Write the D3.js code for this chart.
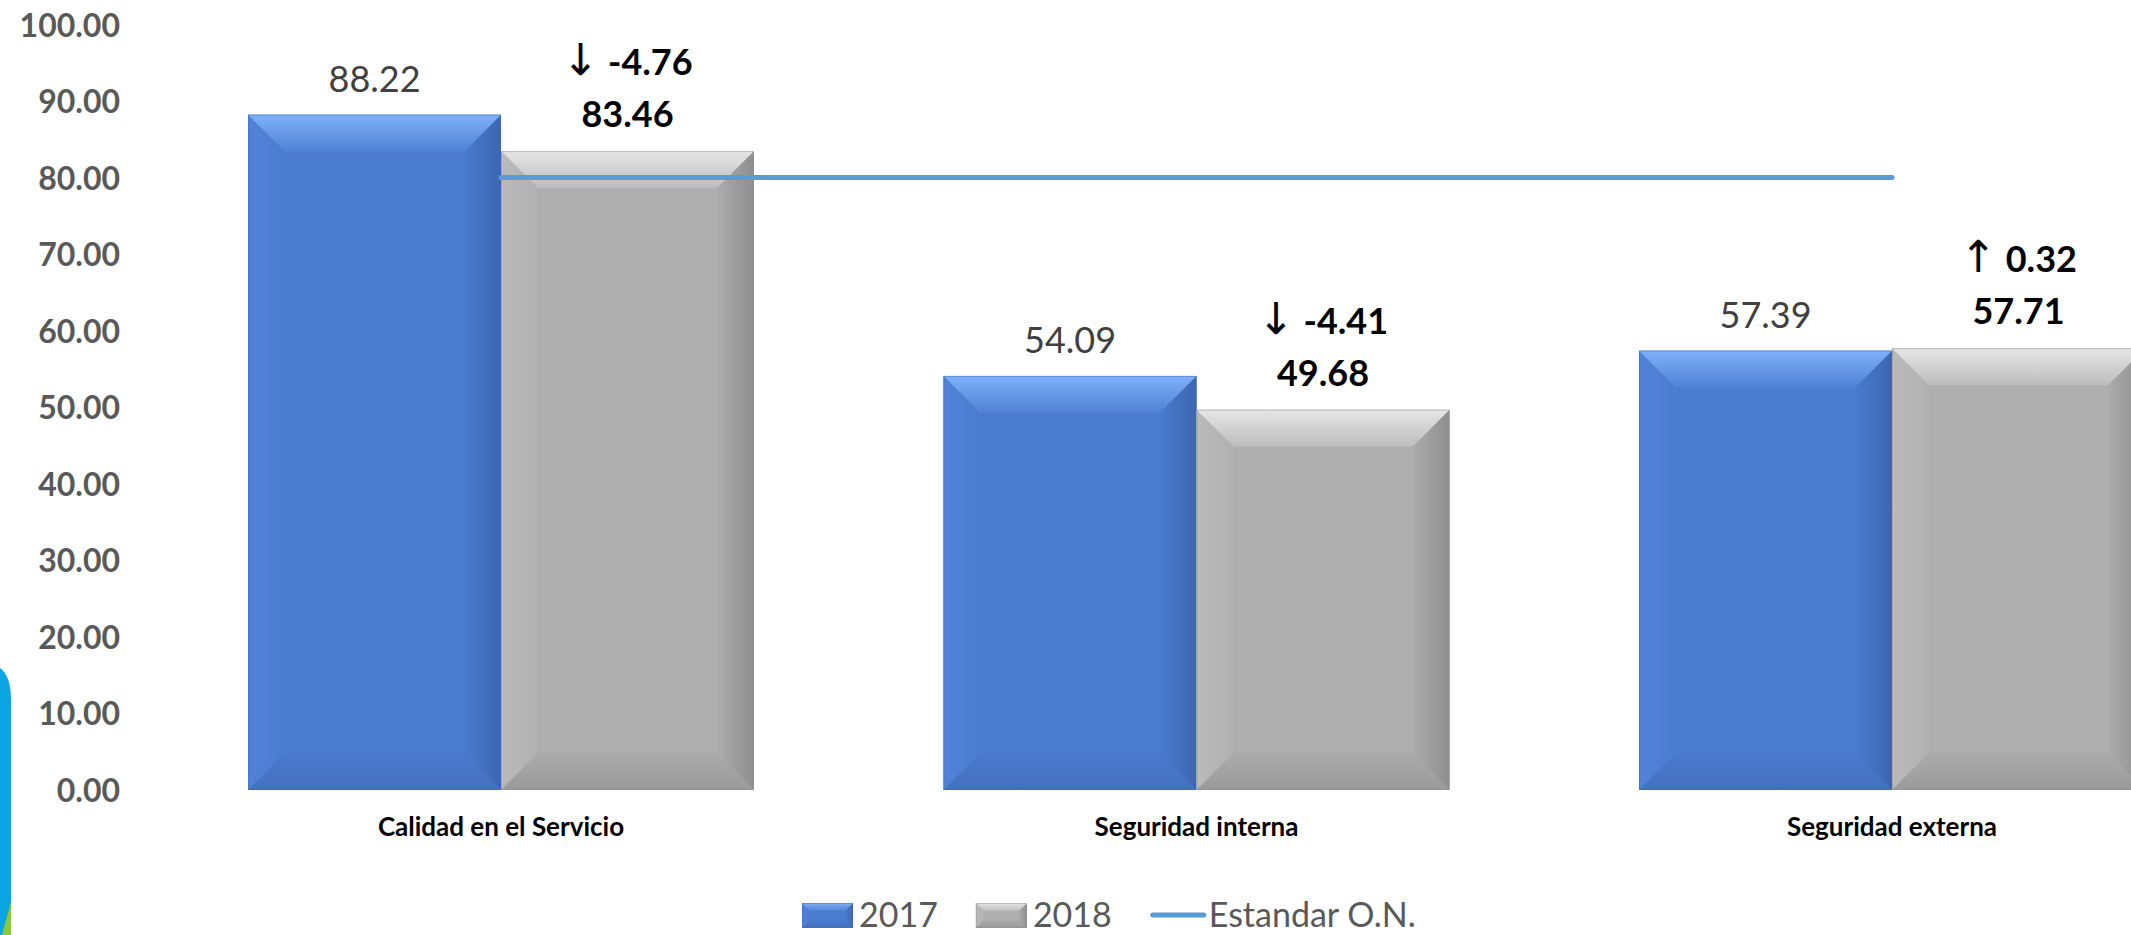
<!DOCTYPE html>
<html>
<head>
<meta charset="utf-8">
<script src="https://cdn.jsdelivr.net/npm/d3@7/dist/d3.min.js"></script>
<style>
  html, body { margin: 0; padding: 0; background: #ffffff; overflow: hidden; }
  svg { display: block; }
</style>
</head>
<body>
<svg id="chart" width="2131" height="935"></svg>
<script>
// ---------------- DATA ----------------
const categories = ["Calidad en el Servicio", "Seguridad interna", "Seguridad externa"];
const seriesNames = ["2017", "2018"];
const values2017 = [88.22, 54.09, 57.39];
const values2018 = [83.46, 49.68, 57.71];
const standardName = "Estandar O.N.";
const standardValues = [80, 80, 80];
const yTickValues = [0, 10, 20, 30, 40, 50, 60, 70, 80, 90, 100];

// ---------------- SETUP ----------------
const svg = d3.select("#chart");
const FONT = "Lato, 'Open Sans', 'DejaVu Sans', sans-serif";

const y = d3.scaleLinear().domain([0, 100]).range([790, 24.5]);
const x0 = d3.scaleBand().domain(categories).range([153.25, 2239.75])
  .paddingInner(0.2725).paddingOuter(0.13625);
const x1 = d3.scaleBand().domain(seriesNames).range([0, x0.bandwidth()]);

const rows = categories.map((c, i) => ({
  cat: c,
  bars: [
    { series: "2017", value: values2017[i] },
    { series: "2018", value: values2018[i], prev: values2017[i] }
  ]
}));

// palette for beveled bars
const pal = {
  "2017": { base: "#4A7BCF", topA: "#80B0F9", topB: "#4F82D6", leftA: "#5083D8", leftB: "#4B7CD0",
            rightA: "#4A7BCF", rightB: "#3C66B2", botA: "#4A79CC", botB: "#4470C0", stroke: "#3F6AB5" },
  "2018": { base: "#AFAFAF", topA: "#E6E6E6", topB: "#BDBDBD", leftA: "#BABABA", leftB: "#B1B1B1",
            rightA: "#ACACAC", rightB: "#8E8E8E", botA: "#ABABAB", botB: "#9A9A9A", stroke: "#8F8F8F" }
};

const defs = svg.append("defs");
function grad(id, a, b, vertical) {
  const g = defs.append("linearGradient").attr("id", id)
    .attr("x1", 0).attr("y1", 0).attr("x2", vertical ? 0 : 1).attr("y2", vertical ? 1 : 0);
  g.append("stop").attr("offset", "0%").attr("stop-color", a);
  g.append("stop").attr("offset", "100%").attr("stop-color", b);
}
Object.keys(pal).forEach(k => {
  const p = pal[k];
  grad("top" + k, p.topA, p.topB, true);
  grad("bot" + k, p.botA, p.botB, true);
  grad("left" + k, p.leftA, p.leftB, false);
  grad("right" + k, p.rightA, p.rightB, false);
});

function bevelRect(g, x, yy, w, h, key, bev) {
  const p = pal[key];
  const b = Math.min(bev, h / 2, w / 2);
  g.append("rect").attr("x", x).attr("y", yy).attr("width", w).attr("height", h).attr("fill", p.base);
  const poly = pts => g.append("polygon").attr("points", pts.map(d => d.join(",")).join(" "));
  poly([[x, yy], [x + b, yy + b], [x + b, yy + h - b], [x, yy + h]]).attr("fill", `url(#left${key})`);
  poly([[x + w, yy], [x + w - b, yy + b], [x + w - b, yy + h - b], [x + w, yy + h]]).attr("fill", `url(#right${key})`);
  poly([[x, yy], [x + w, yy], [x + w - b, yy + b], [x + b, yy + b]]).attr("fill", `url(#top${key})`);
  poly([[x, yy + h], [x + w, yy + h], [x + w - b, yy + h - b], [x + b, yy + h - b]]).attr("fill", `url(#bot${key})`);
  g.append("rect").attr("x", x + 0.5).attr("y", yy + 0.5).attr("width", w - 1).attr("height", h - 1)
    .attr("fill", "none").attr("stroke", p.stroke).attr("stroke-width", 1).attr("stroke-opacity", 0.45);
}

// ---------------- LEFT DECORATION ----------------
svg.append("path").attr("d", "M0,668 Q11,676 11,700 L11,935 L0,935 Z").attr("fill", "#0BA5E2");
svg.append("path").attr("d", "M11,902 L11,935 L2,935 Z").attr("fill", "#8DC63F");

// ---------------- Y AXIS ----------------
const yAxis = svg.append("g").attr("transform", "translate(120,0)")
  .call(d3.axisLeft(y).tickValues(yTickValues).tickFormat(d3.format(".2f")).tickSize(0).tickPadding(0));
yAxis.select(".domain").remove();
yAxis.selectAll("text")
  .attr("font-family", FONT).attr("font-weight", 700).attr("font-size", 32)
  .attr("fill", "#595959").attr("dy", "0.36em");

// ---------------- BARS ----------------
const groups = svg.append("g").selectAll("g.cat").data(rows).join("g")
  .attr("class", "cat").attr("transform", d => `translate(${x0(d.cat)},0)`);

groups.each(function (d) {
  const g = d3.select(this);
  d.bars.forEach(bar => {
    const bx = x1(bar.series), by = y(bar.value), bw = x1.bandwidth(), bh = y(0) - y(bar.value);
    bevelRect(g.append("g"), bx, by, bw, bh, bar.series, 37);
  });
});

// ---------------- STANDARD LINE ----------------
const line = d3.line().x((d, i) => x0(categories[i]) + x0.bandwidth() / 2).y(d => y(d));
svg.append("path").datum(standardValues).attr("d", line)
  .attr("fill", "none").attr("stroke", "#5B9BD5").attr("stroke-width", 5).attr("stroke-linecap", "round");

// ---------------- VALUE LABELS ----------------
const fmt = v => d3.format(".2f")(v).replace("\u2212", "-");
groups.each(function (d) {
  const g = d3.select(this);
  d.bars.forEach(bar => {
    const cx = x1(bar.series) + x1.bandwidth() / 2;
    if (bar.series === "2017") {
      g.append("text").attr("x", cx).attr("y", y(bar.value) - 23)
        .attr("text-anchor", "middle").attr("font-family", FONT).attr("font-weight", 400)
        .attr("font-size", 36).attr("fill", "#404040").text(fmt(bar.value));
    } else {
      g.append("text").attr("x", cx).attr("y", y(bar.value) - 24)
        .attr("text-anchor", "middle").attr("font-family", FONT).attr("font-weight", 700)
        .attr("font-size", 36).attr("fill", "#000000").text(fmt(bar.value));
      const diff = +(bar.value - bar.prev).toFixed(2);
      const t = g.append("text").attr("x", cx).attr("y", y(bar.value) - 76)
        .attr("text-anchor", "middle").attr("font-family", FONT).attr("font-weight", 700)
        .attr("font-size", 36).attr("fill", "#000000");
      t.append("tspan").attr("font-family", "'DejaVu Sans', sans-serif").attr("font-weight", 400)
        .attr("font-size", 44).text(diff < 0 ? "\u2193" : "\u2191");
      t.append("tspan").text(" " + fmt(diff));
    }
  });
});

// ---------------- CATEGORY AXIS ----------------
const xAxis = svg.append("g").attr("transform", `translate(0,${y(0)})`)
  .call(d3.axisBottom(x0).tickSize(0).tickPadding(0));
xAxis.select(".domain").remove();
xAxis.selectAll("text")
  .attr("y", 46).attr("dy", 0)
  .attr("font-family", FONT).attr("font-weight", 700).attr("font-size", 26).attr("fill", "#000000");

// ---------------- LEGEND ----------------
const legend = svg.append("g").attr("transform", "translate(802,-3)");
let lx = 0;
const legendItems = [
  { type: "bar", key: "2017", label: seriesNames[0] },
  { type: "bar", key: "2018", label: seriesNames[1] },
  { type: "line", label: standardName }
];
legendItems.forEach(it => {
  const g = legend.append("g").attr("transform", `translate(${lx},0)`);
  if (it.type === "bar") {
    bevelRect(g, 0, 906, 51, 25, it.key, 8);
  } else {
    g.append("line").attr("x1", 3).attr("x2", 54).attr("y1", 918).attr("y2", 918)
      .attr("stroke", "#5B9BD5").attr("stroke-width", 5).attr("stroke-linecap", "round");
  }
  const t = g.append("text").attr("x", it.type === "bar" ? 57 : 59).attr("y", 930)
    .attr("font-family", FONT).attr("font-weight", 400).attr("font-size", 34)
    .attr("fill", "#595959").text(it.label);
  lx += (it.type === "bar" ? 57 : 59) + t.node().getComputedTextLength() + 38;
});
</script>
</body>
</html>
